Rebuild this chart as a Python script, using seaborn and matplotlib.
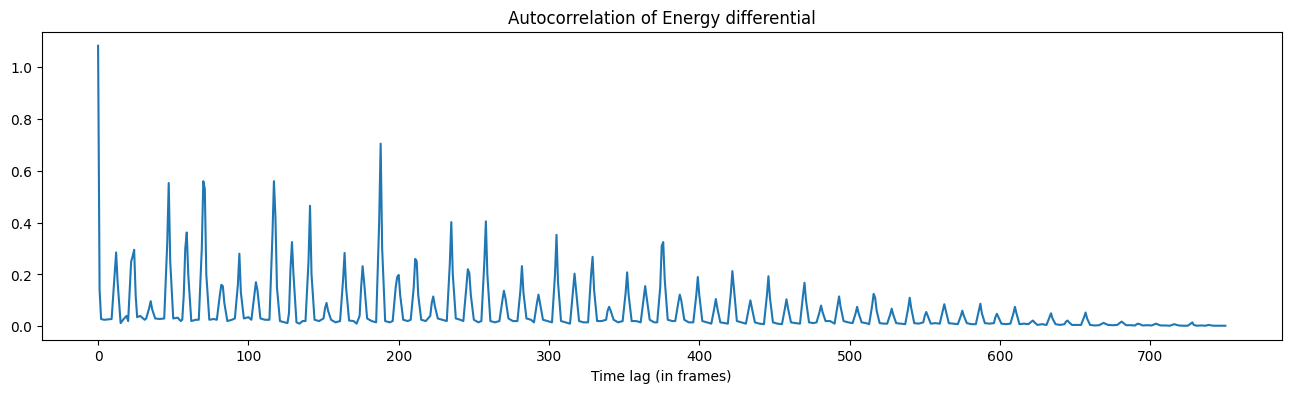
import matplotlib
matplotlib.use("Agg")
import matplotlib.pyplot as plt
import seaborn as sns
import pandas as pd

# Autocorrelation vertices (lag in frames, value)
lag_a = [0, 1, 2, 4, 6,
         9, 11, 12, 13, 15, 17, 19, 20,
         22, 23, 24, 25, 26, 28, 31,
         32, 34, 35, 36, 38, 41,
         44, 46, 47, 48, 50, 53, 55,
         56, 57, 58, 59, 60, 62, 65,
         67, 69, 70, 71, 72, 74, 77,
         79, 81, 82, 83, 84, 86, 89,
         91, 93, 94, 95, 97, 100,
         102, 104, 105, 106, 108, 111,
         114, 116, 117, 118, 119, 121, 124, 126]
acf_a = [1.083, 0.14, 0.028, 0.025, 0.026,
         0.028, 0.20, 0.285, 0.17, 0.012, 0.028, 0.04, 0.02,
         0.25, 0.27, 0.295, 0.12, 0.035, 0.04, 0.025,
         0.03, 0.07, 0.097, 0.065, 0.03, 0.028,
         0.03, 0.32, 0.553, 0.25, 0.03, 0.033, 0.02,
         0.025, 0.12, 0.30, 0.362, 0.2, 0.02, 0.025,
         0.025, 0.3, 0.56, 0.53, 0.2, 0.025, 0.028,
         0.025, 0.12, 0.16, 0.155, 0.09, 0.02, 0.025,
         0.03, 0.16, 0.28, 0.13, 0.03, 0.035,
         0.025, 0.12, 0.17, 0.14, 0.03, 0.025,
         0.025, 0.35, 0.56, 0.42, 0.15, 0.02, 0.015, 0.012]

lag_b = [127, 128, 129, 130, 132, 134, 136,
         138, 140, 141, 142, 144, 147,
         150, 151, 152, 153, 155, 158,
         161, 163, 164, 165, 167, 170, 172,
         174, 175, 176, 177, 179, 182,
         185, 187, 188, 189, 191, 194,
         196, 198, 199, 200, 201, 203, 206,
         208, 210, 211, 212, 213, 215, 218,
         221, 222, 223, 224, 226, 229,
         232, 234, 235, 236, 238, 241,
         243, 245, 246, 247, 248, 250, 253,
         255, 257, 258, 259, 261, 264]
acf_b = [0.05, 0.22, 0.325, 0.2, 0.015, 0.01, 0.02,
         0.02, 0.25, 0.465, 0.2, 0.025, 0.02,
         0.03, 0.07, 0.09, 0.06, 0.025, 0.015,
         0.02, 0.18, 0.283, 0.15, 0.022, 0.02, 0.01,
         0.04, 0.15, 0.232, 0.17, 0.03, 0.02,
         0.015, 0.4, 0.705, 0.3, 0.02, 0.015,
         0.02, 0.15, 0.19, 0.198, 0.12, 0.025, 0.02,
         0.025, 0.15, 0.26, 0.25, 0.12, 0.025, 0.02,
         0.04, 0.09, 0.115, 0.08, 0.03, 0.025,
         0.02, 0.24, 0.402, 0.2, 0.03, 0.025,
         0.02, 0.15, 0.22, 0.205, 0.12, 0.025, 0.015,
         0.02, 0.25, 0.405, 0.2, 0.02, 0.015]

lag_c = [267, 269, 270, 271, 273, 276,
         279, 281, 282, 283, 285, 288,
         290, 292, 293, 294, 296, 299,
         302, 304, 305, 306, 308, 311,
         314, 316, 317, 318, 320, 323,
         326, 328, 329, 330, 332, 335,
         338, 339, 340, 341, 343, 346,
         349, 351, 352, 353, 355, 358,
         361, 363, 364, 365, 367, 370,
         372, 374, 375, 376, 377, 379, 382,
         384, 386, 387, 388, 390, 393,
         396, 398, 399, 400, 402, 405]
acf_c = [0.02, 0.1, 0.137, 0.11, 0.03, 0.02,
         0.02, 0.14, 0.232, 0.13, 0.03, 0.025,
         0.015, 0.09, 0.122, 0.09, 0.025, 0.02,
         0.015, 0.2, 0.353, 0.17, 0.02, 0.015,
         0.01, 0.14, 0.203, 0.14, 0.02, 0.015,
         0.015, 0.2, 0.268, 0.14, 0.02, 0.02,
         0.025, 0.06, 0.075, 0.06, 0.025, 0.015,
         0.02, 0.13, 0.208, 0.12, 0.02, 0.02,
         0.015, 0.11, 0.155, 0.11, 0.025, 0.015,
         0.015, 0.15, 0.31, 0.325, 0.18, 0.025, 0.02,
         0.02, 0.09, 0.122, 0.1, 0.025, 0.015,
         0.015, 0.12, 0.19, 0.12, 0.02, 0.015]

lag_d = [408, 410, 411, 412, 414, 417,
         419, 421, 422, 423, 425, 428,
         431, 433, 434, 435, 437, 440,
         443, 445, 446, 447, 449, 452,
         455, 457, 458, 459, 461, 464,
         467, 469, 470, 471, 473, 476,
         478, 480, 481, 482, 484, 487,
         490, 492, 493, 494, 496, 499,
         502, 504, 505, 506, 508, 511,
         513, 515, 516, 517, 518, 520, 523,
         525, 527, 528, 529, 531, 534,
         537, 539, 540, 541, 543, 546,
         549, 550, 551, 552, 554, 557]
acf_d = [0.01, 0.07, 0.105, 0.07, 0.015, 0.012,
         0.01, 0.13, 0.213, 0.15, 0.02, 0.015,
         0.01, 0.07, 0.1, 0.07, 0.015, 0.01,
         0.008, 0.12, 0.193, 0.11, 0.015, 0.01,
         0.008, 0.07, 0.104, 0.07, 0.015, 0.012,
         0.01, 0.12, 0.168, 0.1, 0.015, 0.012,
         0.015, 0.055, 0.08, 0.055, 0.02, 0.02,
         0.01, 0.08, 0.115, 0.075, 0.02, 0.015,
         0.012, 0.05, 0.075, 0.05, 0.015, 0.012,
         0.008, 0.08, 0.125, 0.11, 0.06, 0.012, 0.01,
         0.01, 0.045, 0.068, 0.045, 0.012, 0.01,
         0.008, 0.07, 0.11, 0.07, 0.012, 0.01,
         0.015, 0.04, 0.055, 0.04, 0.01, 0.012]

lag_e = [560, 562, 563, 564, 566, 569,
         572, 574, 575, 576, 578, 581,
         584, 586, 587, 588, 590, 593,
         596, 597, 598, 599, 601, 604,
         607, 609, 610, 611, 613, 616,
         619, 621, 622, 623, 625, 628,
         631, 633, 634, 635, 637, 640,
         643, 644, 645, 646, 648, 651,
         654, 656, 657, 658, 660, 663,
         666, 668, 669, 670, 672, 675,
         678, 680, 681, 682, 684, 687,
         690, 691, 692, 693, 695, 698,
         701, 703, 704, 705, 707, 710,
         713, 715, 716, 717, 719, 722,
         725, 727, 728, 729, 731, 734,
         737, 738, 739, 740, 742, 746, 750]
acf_e = [0.01, 0.06, 0.085, 0.06, 0.012, 0.01,
         0.008, 0.04, 0.06, 0.04, 0.012, 0.008,
         0.008, 0.06, 0.087, 0.05, 0.012, 0.01,
         0.012, 0.035, 0.048, 0.035, 0.01, 0.008,
         0.01, 0.05, 0.075, 0.05, 0.008, 0.01,
         0.008, 0.018, 0.022, 0.015, 0.005, 0.008,
         0.005, 0.035, 0.05, 0.03, 0.008, 0.005,
         0.008, 0.018, 0.022, 0.015, 0.005, 0.005,
         0.005, 0.035, 0.053, 0.03, 0.005, 0.003,
         0.004, 0.01, 0.013, 0.01, 0.005, 0.004,
         0.005, 0.014, 0.018, 0.013, 0.004, 0.004,
         0.003, 0.008, 0.01, 0.008, 0.003, 0.004,
         0.003, 0.008, 0.01, 0.007, 0.003, 0.003,
         0.002, 0.006, 0.008, 0.006, 0.003, 0.002,
         0.002, 0.01, 0.015, 0.005, 0.002, 0.003,
         0.002, 0.004, 0.005, 0.004, 0.002, 0.002, 0.002]

title = "Autocorrelation of Energy differential"
xlabel = "Time lag (in frames)"

df = pd.DataFrame({
    "lag": lag_a + lag_b + lag_c + lag_d + lag_e,
    "acf": acf_a + acf_b + acf_c + acf_d + acf_e,
})

fig, ax = plt.subplots(figsize=(16, 4))
sns.lineplot(data=df, x="lag", y="acf", ax=ax, color="#1f77b4", linewidth=1.5)
ax.set_title(title)
ax.set_xlabel(xlabel)
ax.set_ylabel("")
fig.savefig("out.png", dpi=100, bbox_inches="tight")
